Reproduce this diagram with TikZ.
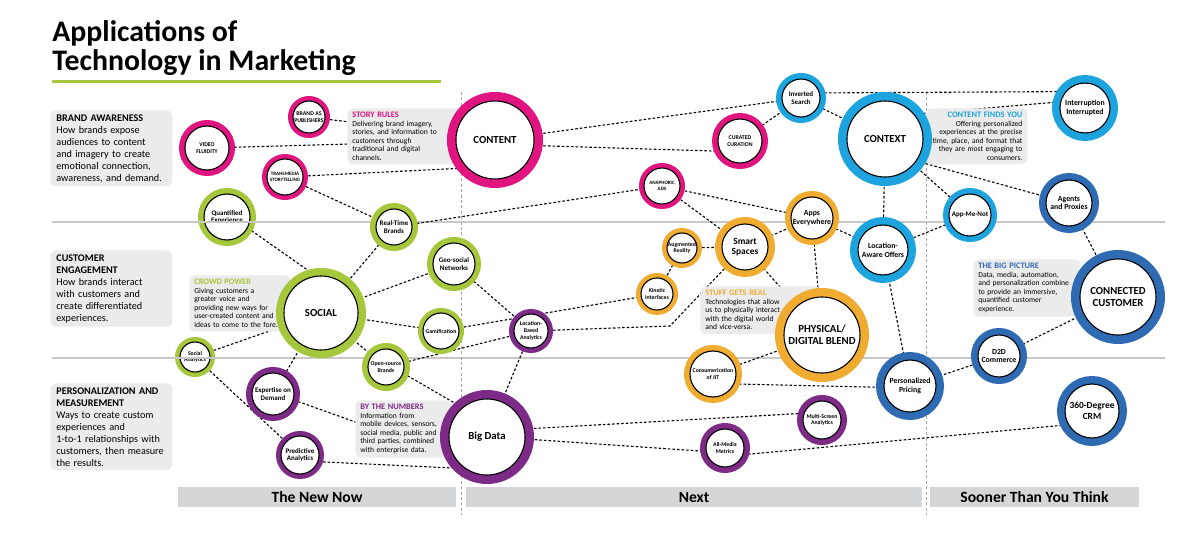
\documentclass[tikz,border=0pt]{standalone}
\usepackage{fontspec}
\setmainfont{Carlito}
\hyphenpenalty=10000
% ring colours
\definecolor{mktMagenta}{HTML}{E0157F}
\definecolor{mktGreen}{HTML}{A6C63C}
\definecolor{mktPurple}{HTML}{7D2B87}
\definecolor{mktOrange}{HTML}{F0AC31}
\definecolor{mktCyan}{HTML}{1DA4DE}
\definecolor{mktBlue}{HTML}{2F6BB3}
\definecolor{mktBox}{HTML}{EBEBEC}
\definecolor{mktBar}{HTML}{D5D6D8}
\definecolor{mktRule}{HTML}{C8C8C8}
\pgfdeclarelayer{links}
\pgfdeclarelayer{notes}
\pgfsetlayers{links,notes,main}
\tikzset{
  bub/.style n args={3}{circle, draw=black, line width=0.55pt, fill=white,
    inner sep=-3pt, minimum size=#3pt, align=center,
    preaction={draw=#1, line width=#2pt}},
  tXL/.style={font=\bfseries\fontsize{5.4}{5.9}\selectfont},
  tLp/.style={font=\bfseries\fontsize{4.7}{5.3}\selectfont},
  tL/.style={font=\bfseries\fontsize{3.9}{4.4}\selectfont},
  tM/.style={font=\bfseries\fontsize{3.5}{3.9}\selectfont},
  tS/.style={font=\bfseries\fontsize{2.9}{3.3}\selectfont},
  tXS/.style={font=\bfseries\fontsize{2.5}{2.9}\selectfont},
  link/.style={draw=black, line width=0.55pt, dash pattern=on 1.3pt off 1pt},
  rule/.style={draw=mktRule, line width=1pt},
  divider/.style={draw=black!35, line width=0.5pt, dash pattern=on 1.5pt off 1.2pt},
  sidebox/.style={fill=mktBox, rounded corners=3pt, anchor=north west, align=left,
    text width=55pt, inner xsep=3pt, inner ysep=2pt, font=\fontsize{5.1}{6}\selectfont},
  note/.style={fill=mktBox, rounded corners=2.5pt, anchor=north west, align=left,
    inner xsep=2.5pt, inner ysep=2pt, font=\fontsize{3.8}{4.25}\selectfont},
  bar/.style={fill=mktBar, inner sep=0pt, minimum height=10pt, font=\bfseries\fontsize{7.8}{8}\selectfont},
}
\newcommand{\nhead}[2]{{\color{#1}\bfseries\fontsize{4.2}{4.25}\selectfont #2}}
\begin{document}
\begin{tikzpicture}[x=0.5pt, y=-0.5pt]
\useasboundingbox (0,0) rectangle (1191,535);
% Title
\node[anchor=north west, inner sep=0pt, align=left, font=\bfseries\fontsize{14.9}{14.5}\selectfont] (title) at (52,20) {Applications of\\Technology in Marketing};
\draw[mktGreen, line width=1.5pt] (52,82) -- (441,82);
% Row labels
\node[sidebox] (awareness) at (50,110) {\textbf{BRAND AWARENESS}\\How brands expose\\audiences to content\\and imagery to create\\emotional connection,\\awareness, and demand.};
\node[sidebox] (engagement) at (50,250) {\textbf{CUSTOMER}\\\textbf{ENGAGEMENT}\\How brands interact\\with customers and\\create differentiated\\experiences.};
\node[sidebox] (measure) at (50,383) {\textbf{PERSONALIZATION AND}\\\textbf{MEASUREMENT}\\Ways to create custom\\experiences and\\1-to-1 relationships with\\customers, then measure\\the results.};
% Column bars
\node[bar, minimum width=139pt] (nownow) at (317,497) {The New Now};
\node[bar, minimum width=228pt] (next) at (694,497) {Next};
\node[bar, minimum width=104.5pt] (sooner) at (1034.5,497) {Sooner Than You Think};
% Magenta: content
\node[bub={mktMagenta}{5}{16}, tS] (pub) at (309,117) {BRAND AS\\PUBLISHERS};
\node[bub={mktMagenta}{6}{22}, tS] (video) at (207,148) {VIDEO\\FLUIDITY};
\node[bub={mktMagenta}{5}{18}, tXS] (trans) at (285,177) {TRANSMEDIA\\STORYTELLING};
\node[bub={mktMagenta}{9}{39}, tXL] (content) at (495,140) {CONTENT};
\node[bub={mktMagenta}{6}{22}, tS] (curated) at (740,141) {CURATED\\CURATION};
\node[bub={mktMagenta}{5}{18}, tXS] (anaph) at (662,186) {ANAPHORIC\\ADS};
% Green: social
\node[bub={mktGreen}{6}{23}, tM] (quant) at (227,217) {Quantified\\Experience};
\node[bub={mktGreen}{6}{18}, tM] (realtime) at (394,227) {Real-Time\\Brands};
\node[bub={mktGreen}{8}{37}, tXL] (social) at (321,313) {SOCIAL};
\node[bub={mktGreen}{6}{21}, tM] (geo) at (454,264) {Geo-social\\Networks};
\node[bub={mktGreen}{5}{18}, tS] (gamif) at (441,331) {Gamification};
\node[bub={mktGreen}{6}{18}, tS] (opens) at (386,367) {Open-source\\Brands};
\node[bub={mktGreen}{5}{15}, tS] (sana) at (195,357) {Social\\Analytics};
% Purple: big data
\node[bub={mktPurple}{5}{17}, tS] (lba) at (531,331) {Location-\\Based\\Analytics};
\node[bub={mktPurple}{6}{21}, tM] (expert) at (273,394) {Expertise on\\Demand};
\node[bub={mktPurple}{5}{19}, tM] (predict) at (300,455) {Predictive\\Analytics};
\node[bub={mktPurple}{9}{38}, tXL] (bigdata) at (487,437) {Big Data};
\node[bub={mktPurple}{6}{19}, tS] (multi) at (822,420) {Multi-Screen\\Analytics};
\node[bub={mktPurple}{6}{19}, tS] (allmedia) at (725,448) {All-Media\\Metrics};
% Orange: physical/digital
\node[bub={mktOrange}{5}{15}, tS] (augm) at (682,248) {Augmented\\Reality};
\node[bub={mktOrange}{5}{16}, tS] (kinetic) at (657,294) {Kinetic\\Interfaces};
\node[bub={mktOrange}{7}{23}, tLp] (smart) at (745,247) {Smart\\Spaces};
\node[bub={mktOrange}{6}{21}, tL] (apps) at (812,218) {Apps\\Everywhere};
\node[bub={mktOrange}{9}{38}, tXL] (phys) at (822,335) {PHYSICAL/\\DIGITAL BLEND};
\node[bub={mktOrange}{6}{23}, tS] (consum) at (713,374) {Consumerization\\of JIT};
% Cyan: context
\node[bub={mktCyan}{6}{19}, tM] (inv) at (801,98) {Inverted\\Search};
\node[bub={mktCyan}{9}{38}, tXL] (context) at (885,139) {CONTEXT};
\node[bub={mktCyan}{8}{25}, tL] (interr) at (1085,108) {Interruption\\Interrupted};
\node[bub={mktCyan}{6}{21}, tM] (appme) at (970,215) {App-Me-Not};
\node[bub={mktCyan}{8}{25}, tL] (locaw) at (883,250) {Location-\\Aware Offers};
% Blue: connected customer
\node[bub={mktBlue}{7}{23}, tL] (agents) at (1069,203) {Agents\\and Proxies};
\node[bub={mktBlue}{9}{38}, tXL] (conn) at (1118,297) {CONNECTED\\CUSTOMER};
\node[bub={mktBlue}{7}{21}, tL] (d2d) at (999,356) {D2D\\Commerce};
\node[bub={mktBlue}{8}{26}, tL] (pricing) at (910,386) {Personalized\\Pricing};
\node[bub={mktBlue}{8}{27}, tLp] (crm) at (1092,411) {360-Degree\\CRM};
% Rules showing through two bubbles
\draw[rule] (196,222) -- (258,222);
\draw[rule] (173,358) -- (217,358);
% Callout notes
\begin{pgfonlayer}{notes}
\node[note, text width=54pt] (storyrules) at (347,108) {\nhead{mktMagenta}{STORY RULES}\\Delivering brand imagery,\\stories, and information to\\customers through\\traditional and digital\\channels.};
\node[note, text width=45.5pt] (crowd) at (189,275) {\nhead{mktGreen}{CROWD POWER}\\Giving customers a\\greater voice and\\providing new ways for\\user-created content and\\ideas to come to the fore.};
\node[note, text width=43.5pt] (numbers) at (355,400) {\nhead{mktPurple}{BY THE NUMBERS}\\Information from\\mobile devices, sensors,\\social media, public and\\third parties, combined\\with enterprise data.};
\node[note, text width=55pt] (stuff) at (700,286) {\nhead{mktOrange}{STUFF GETS REAL}\\Technologies that allow\\us to physically interact\\with the digital world\\and vice-versa.};
\node[note, text width=46pt, align=right] (finds) at (925,108) {\nhead{mktCyan}{CONTENT FINDS YOU}\\Offering personalized\\experiences at the precise\\time, place, and format that\\they are most engaging to\\consumers.};
\node[note, text width=48.5pt] (bigpic) at (973,259) {\nhead{mktBlue}{THE BIG PICTURE}\\Data, media, automation,\\and personalization combine\\to provide an immersive,\\quantified customer\\experience.};
\end{pgfonlayer}
% Grid rules, dividers and links
\begin{pgfonlayer}{links}
  \draw[rule] (52,222) -- (1165,222);
  \draw[rule] (52,358) -- (1165,358);
  \draw[divider] (461,92) -- (461,515);
  \draw[divider] (926,92) -- (926,515);
  \coordinate (bendA) at (670,326);
  \draw[link] (pub) -- (content);
  \draw[link] (video) -- (content);
  \draw[link] (trans) -- (content.225);
  \draw[link] (trans) -- (realtime);
  \draw[link] (realtime) -- (anaph);
  \draw[link] (realtime) -- (social);
  \draw[link] (quant.-28) -- (social.98);
  \draw[link] (social) -- (geo);
  \draw[link] (social) -- (gamif);
  \draw[link] (social) -- (opens);
  \draw[link] (social) -- (sana);
  \draw[link] (social) -- (expert);
  \draw[link] (sana) -- (predict);
  \draw[link] (expert.-16) -- (bigdata.212);
  \draw[link] (predict.-20) -- (bigdata.235);
  \draw[link] (opens.-20) -- (bigdata.130);
  \draw[link] (opens) -- (lba);
  \draw[link] (geo) -- (lba);
  \draw[link] (gamif) -- (kinetic);
  \draw[link] (lba) -- (bendA) -- (smart);
  \draw[link] (lba) -- (bigdata);
  \draw[link] (kinetic) -- (augm);
  \draw[link] (augm) -- (smart);
  \draw[link] (anaph) -- (smart);
  \draw[link] (anaph) -- (apps);
  \draw[link] (smart) -- (apps);
  \draw[link] (smart) -- (phys);
  \draw[link] (apps) -- (phys);
  \draw[link] (apps) -- (locaw);
  \draw[link] (content) -- (inv);
  \draw[link] (content.-8) -- (curated.207);
  \draw[link] (curated) -- (inv);
  \draw[link] (inv) -- (context);
  \draw[link] (inv.15) -- (interr.140);
  \draw[link] (context.40) -- (interr.166);
  \draw[link] (context.-35) -- (agents.165);
  \draw[link] (context) -- (appme);
  \draw[link] (context) -- (locaw);
  \draw[link] (appme) -- (locaw);
  \draw[link] (locaw) -- (pricing);
  \draw[link] (agents) -- (conn);
  \draw[link] (d2d) -- (conn);
  \draw[link] (pricing) -- (d2d);
  \draw[link] (consum) -- (phys);
  \draw[link] (consum.-25) -- (pricing.183);
  \draw[link] (bigdata.12) -- (multi.160);
  \draw[link] (bigdata.-3) -- (allmedia.190);
  \draw[link] (allmedia.-20) -- (crm.210);
\end{pgfonlayer}
\end{tikzpicture}
\end{document}
